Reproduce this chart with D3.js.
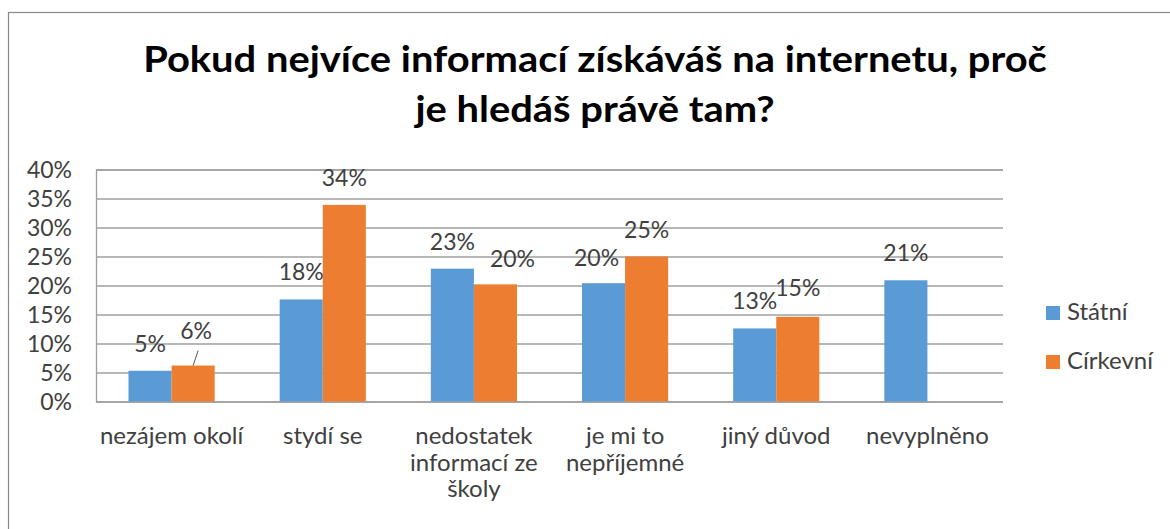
<!DOCTYPE html>
<html>
<head>
<meta charset="utf-8">
<script src="https://cdn.jsdelivr.net/npm/d3@7/dist/d3.min.js"></script>
<style>
  html, body { margin: 0; padding: 0; background: #fff; }
  svg { display: block; }
  text { font-family: Lato, "Open Sans", sans-serif; }
</style>
</head>
<body>
<svg id="chart" width="1170" height="529"></svg>
<script>
// ---- data ----
const titleLines = ["Pokud nejvíce informací získáváš na internetu, proč", "je hledáš právě tam?"];
const categories = ["nezájem okolí", "stydí se", "nedostatek informací ze školy", "je mi to nepříjemné", "jiný důvod", "nevyplněno"];
const seriesNames = ["Státní", "Církevní"];
const statni   = [0.053, 0.176, 0.229, 0.204, 0.126, 0.209];
const cirkevni = [0.062, 0.339, 0.202, 0.250, 0.146, null];
const yTicks = [0, 0.05, 0.10, 0.15, 0.20, 0.25, 0.30, 0.35, 0.40];

const colors = { "Státní": "#5b9bd5", "Církevní": "#ed7d31" };

// ---- layout ----
const svg = d3.select("#chart");
const plot = { left: 96, right: 1003, top: 169.5, bottom: 401.5 };
const FONT = 23, LFONT = 24;

// chart border (cropped on right/bottom)
svg.append("rect").attr("x", 8.5).attr("y", 12.5).attr("width", 1300).attr("height", 700)
  .attr("fill", "#fff").attr("stroke", "#898989").attr("stroke-width", 1.2);

// title
const titleG = svg.append("g");
const tt = titleG.selectAll("text").data(titleLines).join("text")
  .attr("x", 0).attr("y", 0)
  .attr("text-anchor", "middle")
  .attr("font-size", 37).attr("font-weight", "bold").attr("fill", "#000")
  .text(d => d);
const titleW = tt.nodes()[0].getComputedTextLength();
const tsx = 904 / titleW;
tt.attr("transform", (d, i) => `translate(595,${72 + i * 50}) scale(${tsx},1)`);

const x0 = d3.scaleBand().domain(categories).range([plot.left, plot.right])
  .paddingInner(0.43).paddingOuter(0.215);
const x1 = d3.scaleBand().domain(seriesNames).range([0, x0.bandwidth()]);
const y = d3.scaleLinear().domain([0, 0.4]).range([plot.bottom, plot.top]);

// gridlines + y axis
const yAxis = d3.axisLeft(y).tickValues(yTicks).tickSize(-(plot.right - plot.left))
  .tickFormat(d3.format(".0%")).tickPadding(24);
const gy = svg.append("g").attr("transform", `translate(${plot.left},0)`).call(yAxis);
gy.select(".domain").attr("stroke", "#9f9f9f").attr("stroke-width", 1.3);
gy.selectAll(".tick line").attr("stroke", "#9f9f9f").attr("stroke-width", 1.3);
gy.selectAll(".tick text").attr("font-size", FONT).attr("fill", "#404040")
  .attr("font-family", "Lato, sans-serif").attr("x", 72 - plot.left).attr("dy", "0.36em");

// bars
const rows = categories.map((c, i) => ({ cat: c, vals: [
  { s: "Státní", v: statni[i], ci: i },
  { s: "Církevní", v: cirkevni[i], ci: i }
].filter(d => d.v != null) }));

const groups = svg.append("g").selectAll("g").data(rows).join("g")
  .attr("transform", d => `translate(${x0(d.cat)},0)`);

groups.selectAll("rect").data(d => d.vals).join("rect")
  .attr("x", d => x1(d.s)).attr("width", x1.bandwidth())
  .attr("y", d => y(d.v)).attr("height", d => y(0) - y(d.v))
  .attr("fill", d => colors[d.s]);

// data label nudges (labels moved by hand in the original)
const nudge = { "Církevní-0": [3, -8, true], "Církevní-2": [17, 2], "Státní-3": [-7, 2], "Církevní-4": [0, -2] };

groups.each(function(row) {
  const g = d3.select(this);
  row.vals.forEach(d => {
    const n = nudge[d.s + "-" + d.ci] || [0, 0];
    const cx = x1(d.s) + x1.bandwidth() / 2;
    const by = y(d.v) - 19;
    g.append("text").attr("x", cx + n[0]).attr("y", by + n[1])
      .attr("text-anchor", "middle").attr("font-size", FONT).attr("fill", "#404040")
      .text(Math.round(d.v * 100) + "%");
    if (n[2]) {
      g.append("line").attr("x1", cx).attr("y1", y(d.v)).attr("x2", cx + 5).attr("y2", y(d.v) - 15)
        .attr("stroke", "#595959").attr("stroke-width", 1);
    }
  });
});

// x labels with wrapping
const xl = svg.append("g");
categories.forEach(c => {
  const cx = x0(c) + x0.bandwidth() / 2;
  const words = c.split(" ");
  const lines = [];
  let cur = [];
  const t = xl.append("text").attr("font-size", LFONT).attr("text-anchor", "middle").attr("fill", "#404040");
  const probe = t.append("tspan");
  words.forEach(w => {
    const test = cur.concat([w]).join(" ");
    probe.text(test);
    if (probe.node().getComputedTextLength() > x0.step() && cur.length) {
      lines.push(cur.join(" ")); cur = [w];
    } else cur.push(w);
  });
  lines.push(cur.join(" "));
  probe.remove();
  t.selectAll("tspan").data(lines).join("tspan")
    .attr("x", cx).attr("y", (d, i) => 444 + i * 26.5).text(d => d);
});

// legend
const lg = svg.append("g").selectAll("g").data(seriesNames).join("g")
  .attr("transform", (d, i) => `translate(1046,${306 + i * 49})`);
lg.append("rect").attr("width", 14).attr("height", 14).attr("fill", d => colors[d]);
lg.append("text").attr("x", 21).attr("y", 14).attr("font-size", LFONT).attr("fill", "#404040").text(d => d);
</script>
</body>
</html>
